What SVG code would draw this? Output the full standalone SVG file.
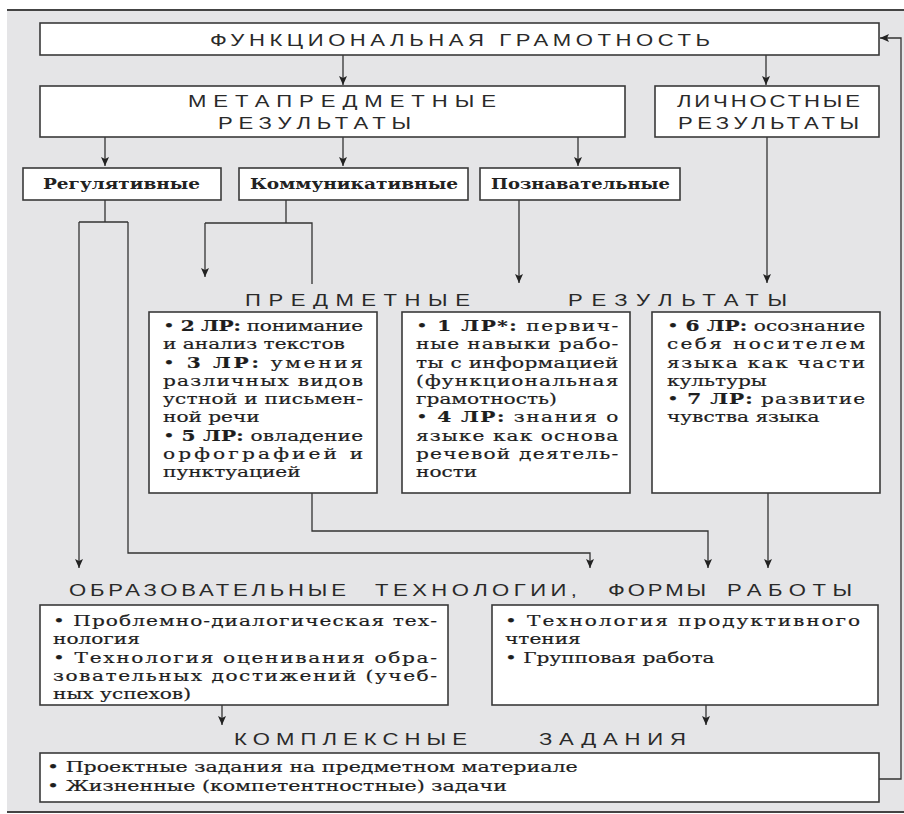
<svg xmlns="http://www.w3.org/2000/svg" width="904" height="814" viewBox="0 0 904 814">
<style>
.bx{fill:#fff;stroke:#3a3a3a;stroke-width:1.6}
.cn{fill:none;stroke:#333;stroke-width:1.3}
.hd{font-family:"Liberation Sans",Arial,sans-serif;font-size:17px;fill:#2a2a2a}
.tx{font-family:"DejaVu Serif","Liberation Serif",serif;font-size:15px;fill:#1e1e1e;stroke:#1e1e1e;stroke-width:0.2}
.lb{font-family:"DejaVu Serif","Liberation Serif",serif;font-size:15px;font-weight:bold;fill:#222}
.b{font-weight:bold}
</style>
<defs>
<marker id="ah" markerUnits="userSpaceOnUse" markerWidth="10" markerHeight="10" refX="9" refY="4" orient="auto">
<path d="M0,0 L9,4 L0,8 L2,4 Z" fill="#222"/>
</marker>
</defs>
<rect x="0" y="0" width="904" height="814" fill="#fff"/>
<rect x="7" y="10" width="897" height="802" fill="#e5e5e7"/>
<line x1="7" y1="10" x2="904" y2="10" stroke="#444" stroke-width="2"/>
<line x1="7" y1="812" x2="904" y2="812" stroke="#444" stroke-width="2"/>

<g id="connectors">
<path class="cn" d="M343,55 V85" marker-end="url(#ah)"/>
<path class="cn" d="M766,55 V85" marker-end="url(#ah)"/>
<path class="cn" d="M105,137 V166" marker-end="url(#ah)"/>
<path class="cn" d="M343,137 V166" marker-end="url(#ah)"/>
<path class="cn" d="M578,137 V166" marker-end="url(#ah)"/>
<path class="cn" d="M105,200 V222 M79,222 H128"/>
<path class="cn" d="M79,222 V568" marker-end="url(#ah)"/>
<path class="cn" d="M128,222 V553 H590 V568" marker-end="url(#ah)"/>
<path class="cn" d="M286,200 V223 M205,223 H312 V284"/>
<path class="cn" d="M205,223 V277" marker-end="url(#ah)"/>
<path class="cn" d="M519,200 V283" marker-end="url(#ah)"/>
<path class="cn" d="M767,137 V283" marker-end="url(#ah)"/>
<path class="cn" d="M312,493 V531 H708 V568" marker-end="url(#ah)"/>
<path class="cn" d="M768,493 V568" marker-end="url(#ah)"/>
<path class="cn" d="M222,705 V725" marker-end="url(#ah)"/>
<path class="cn" d="M706,705 V725" marker-end="url(#ah)"/>
<path class="cn" d="M879,779 H901 V38 H880" marker-end="url(#ah)"/>
</g>

<g id="functional">
<rect class="bx" x="40" y="23" width="839" height="32"/>
<g transform="translate(210,0) scale(1.3,1)"><text class="hd" x="0" y="46" textLength="384.6" lengthAdjust="spacing">ФУНКЦИОНАЛЬНАЯ ГРАМОТНОСТЬ</text></g>
</g>

<g id="meta">
<rect class="bx" x="40" y="86" width="585" height="51"/>
<g transform="translate(188,0) scale(1.3,1)"><text class="hd" x="0" y="107" textLength="236.9" lengthAdjust="spacing">МЕТАПРЕДМЕТНЫЕ</text></g>
<g transform="translate(218,0) scale(1.3,1)"><text class="hd" x="0" y="129" textLength="148.5" lengthAdjust="spacing">РЕЗУЛЬТАТЫ</text></g>
</g>

<g id="personal">
<rect class="bx" x="655" y="86" width="224" height="51"/>
<g transform="translate(677,0) scale(1.3,1)"><text class="hd" x="0" y="107" textLength="140.8" lengthAdjust="spacing">ЛИЧНОСТНЫЕ</text></g>
<g transform="translate(678,0) scale(1.3,1)"><text class="hd" x="0" y="129" textLength="139.2" lengthAdjust="spacing">РЕЗУЛЬТАТЫ</text></g>
</g>

<g id="regulative">
<rect class="bx" x="23" y="168" width="198" height="32"/>
<text class="lb" x="43" y="189" textLength="157" lengthAdjust="spacingAndGlyphs">Регулятивные</text>
</g>
<g id="communicative">
<rect class="bx" x="239" y="168" width="229" height="32"/>
<text class="lb" x="250" y="189" textLength="208" lengthAdjust="spacingAndGlyphs">Коммуникативные</text>
</g>
<g id="cognitive">
<rect class="bx" x="480" y="168" width="200" height="32"/>
<text class="lb" x="491" y="189" textLength="179" lengthAdjust="spacingAndGlyphs">Познавательные</text>
</g>

<g id="subject-title">
<g transform="translate(245,0) scale(1.3,1)"><text class="hd" x="0" y="306" textLength="173" lengthAdjust="spacing">ПРЕДМЕТНЫЕ</text></g>
<g transform="translate(568,0) scale(1.3,1)"><text class="hd" x="0" y="306" textLength="168.5" lengthAdjust="spacing">РЕЗУЛЬТАТЫ</text></g>
</g>

<g id="subject-1">
<rect class="bx" x="149" y="312" width="228" height="181"/>
<g transform="translate(163,0) scale(1.34,1)">
<text class="tx" x="0" y="331" textLength="149.3" lengthAdjust="spacing">• <tspan class="b">2 ЛР:</tspan> понимание</text>
<text class="tx" x="0" y="349.3">и анализ текстов</text>
<text class="tx" x="0" y="367.6" textLength="149.3" lengthAdjust="spacing">• <tspan class="b">3 ЛР:</tspan> умения</text>
<text class="tx" x="0" y="385.9" textLength="149.3" lengthAdjust="spacing">различных видов</text>
<text class="tx" x="0" y="404.2" textLength="149.3" lengthAdjust="spacing">устной и письмен-</text>
<text class="tx" x="0" y="422.5">ной речи</text>
<text class="tx" x="0" y="440.8" textLength="149.3" lengthAdjust="spacing">• <tspan class="b">5 ЛР:</tspan> овладение</text>
<text class="tx" x="0" y="459.1" textLength="149.3" lengthAdjust="spacing">орфографией и</text>
<text class="tx" x="0" y="477.4">пунктуацией</text>
</g>
</g>

<g id="subject-2">
<rect class="bx" x="402" y="312" width="228" height="181"/>
<g transform="translate(416,0) scale(1.34,1)">
<text class="tx" x="0" y="331" textLength="151" lengthAdjust="spacing">• <tspan class="b">1 ЛР*:</tspan> первич-</text>
<text class="tx" x="0" y="349.3" textLength="151" lengthAdjust="spacing">ные навыки рабо-</text>
<text class="tx" x="0" y="367.6" textLength="151" lengthAdjust="spacing">ты с информацией</text>
<text class="tx" x="0" y="385.9" textLength="151" lengthAdjust="spacing">(функциональная</text>
<text class="tx" x="0" y="404.2">грамотность)</text>
<text class="tx" x="0" y="422.5" textLength="151" lengthAdjust="spacing">• <tspan class="b">4 ЛР:</tspan> знания о</text>
<text class="tx" x="0" y="440.8" textLength="151" lengthAdjust="spacing">языке как основа</text>
<text class="tx" x="0" y="459.1" textLength="151" lengthAdjust="spacing">речевой деятель-</text>
<text class="tx" x="0" y="477.4">ности</text>
</g>
</g>

<g id="subject-3">
<rect class="bx" x="652" y="312" width="228" height="181"/>
<g transform="translate(667,0) scale(1.34,1)">
<text class="tx" x="0" y="331" textLength="147.8" lengthAdjust="spacing">• <tspan class="b">6 ЛР:</tspan> осознание</text>
<text class="tx" x="0" y="349.3" textLength="147.8" lengthAdjust="spacing">себя носителем</text>
<text class="tx" x="0" y="367.6" textLength="147.8" lengthAdjust="spacing">языка как части</text>
<text class="tx" x="0" y="385.9">культуры</text>
<text class="tx" x="0" y="404.2" textLength="147.8" lengthAdjust="spacing">• <tspan class="b">7 ЛР:</tspan> развитие</text>
<text class="tx" x="0" y="422.5">чувства языка</text>
</g>
</g>

<g id="tech-title">
<g transform="translate(69,0) scale(1.3,1)"><text class="hd" x="0" y="596" textLength="213" lengthAdjust="spacing">ОБРАЗОВАТЕЛЬНЫЕ</text></g>
<g transform="translate(375,0) scale(1.3,1)"><text class="hd" x="0" y="596" textLength="155.4" lengthAdjust="spacing">ТЕХНОЛОГИИ,</text></g>
<g transform="translate(608,0) scale(1.3,1)"><text class="hd" x="0" y="596" textLength="75.4" lengthAdjust="spacing">ФОРМЫ</text></g>
<g transform="translate(727,0) scale(1.3,1)"><text class="hd" x="0" y="596" textLength="96.2" lengthAdjust="spacing">РАБОТЫ</text></g>
</g>

<g id="tech-left">
<rect class="bx" x="40" y="605" width="408" height="100"/>
<g transform="translate(53,0) scale(1.34,1)">
<text class="tx" x="0" y="626" textLength="286.6" lengthAdjust="spacing">• Проблемно-диалогическая тех-</text>
<text class="tx" x="0" y="644.3">нология</text>
<text class="tx" x="0" y="662.6" textLength="286.6" lengthAdjust="spacing">• Технология оценивания обра-</text>
<text class="tx" x="0" y="680.9" textLength="286.6" lengthAdjust="spacing">зовательных достижений (учеб-</text>
<text class="tx" x="0" y="699.2">ных успехов)</text>
</g>
</g>

<g id="tech-right">
<rect class="bx" x="492" y="605" width="386" height="100"/>
<g transform="translate(505,0) scale(1.34,1)">
<text class="tx" x="0" y="626" textLength="265" lengthAdjust="spacing">• Технология продуктивного</text>
<text class="tx" x="0" y="644.3">чтения</text>
<text class="tx" x="0" y="662.6">• Групповая работа</text>
</g>
</g>

<g id="complex-title">
<g transform="translate(234,0) scale(1.3,1)"><text class="hd" x="0" y="745" textLength="179.2" lengthAdjust="spacing">КОМПЛЕКСНЫЕ</text></g>
<g transform="translate(539,0) scale(1.3,1)"><text class="hd" x="0" y="745" textLength="113" lengthAdjust="spacing">ЗАДАНИЯ</text></g>
</g>

<g id="complex">
<rect class="bx" x="40" y="753" width="839" height="49"/>
<g transform="translate(47,0) scale(1.37,1)">
<text class="tx" x="0" y="772">• Проектные задания на предметном материале</text>
<text class="tx" x="0" y="791">• Жизненные (компетентностные) задачи</text>
</g>
</g>
</svg>
